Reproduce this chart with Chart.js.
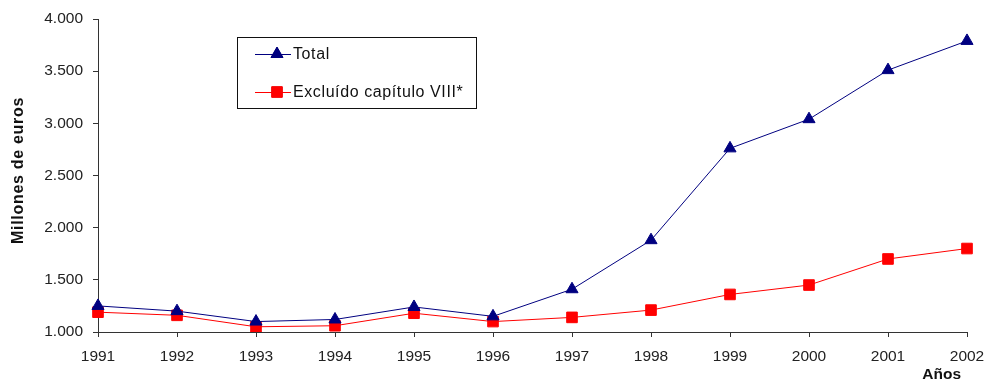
<!DOCTYPE html>
<html>
<head>
<meta charset="utf-8">
<script src="https://cdn.jsdelivr.net/npm/chart.js@4/dist/chart.umd.min.js"></script>
<style>
  html, body { margin: 0; padding: 0; background: #fff; }
  #wrap { width: 986px; height: 382px; }
</style>
</head>
<body>
<div id="wrap"><canvas id="c" width="986" height="382"></canvas></div>
<script>
// Years on the horizontal axis
const years = ['1991','1992','1993','1994','1995','1996','1997','1998','1999','2000','2001','2002'];
// Millions of euros
const totalValues    = [1250, 1200, 1100, 1120, 1240, 1150, 1410, 1880, 2760, 3040, 3510, 3790];
const excludedValues = [1190, 1160, 1050, 1060, 1180, 1100, 1140, 1210, 1360, 1450, 1700, 1800];
const seriesNames = ['Total', 'Excluído capítulo VIII*'];
const yTicks = [1000, 1500, 2000, 2500, 3000, 3500, 4000];
const yTitle = 'Millones de euros';
const xTitle = 'Años';

const FONT = '"Liberation Sans", Arial, sans-serif';

function fmt(v) {
  return String(v).replace(/\B(?=(\d{3})+(?!\d))/g, '.');
}

// Boxed legend inside the plot area, plus the two axis titles
const decorations = {
  id: 'decorations',
  afterDraw(chart) {
    const ctx = chart.ctx;
    const x0 = 237, y0 = 37, w = 239, h = 71;
    ctx.save();
    ctx.strokeStyle = '#111';
    ctx.lineWidth = 1;
    ctx.strokeRect(x0 + 0.5, y0 + 0.5, w, h);
    const rows = [54, 92];
    chart.data.datasets.forEach((ds, i) => {
      const y = rows[i];
      ctx.strokeStyle = ds.borderColor;
      ctx.lineWidth = 1;
      ctx.beginPath();
      ctx.moveTo(255, y + 0.5);
      ctx.lineTo(291, y + 0.5);
      ctx.stroke();
      Chart.helpers.drawPoint(ctx, {
        pointStyle: ds.pointStyle,
        radius: ds.pointRadius,
        borderWidth: 1
      }, 277, y);
      ctx.fillStyle = ds.pointBackgroundColor;
      ctx.fill();
      ctx.fillStyle = '#111';
      ctx.font = '16px ' + FONT;
      ctx.letterSpacing = '0.6px';
      ctx.textBaseline = 'middle';
      ctx.textAlign = 'left';
      ctx.fillText(ds.label, 293, y + 1);
    });

    // vertical axis title
    const area = chart.chartArea;
    ctx.save();
    ctx.translate(18.5, (area.top + area.bottom) / 2 - 5);
    ctx.rotate(-Math.PI / 2);
    ctx.font = 'bold 16px ' + FONT;
    ctx.letterSpacing = '0.7px';
    ctx.fillStyle = '#111';
    ctx.textAlign = 'center';
    ctx.textBaseline = 'middle';
    ctx.fillText(yTitle, 0, 0);
    ctx.restore();

    // horizontal axis title
    ctx.font = 'bold 15.5px ' + FONT;
    ctx.letterSpacing = '0px';
    ctx.fillStyle = '#111';
    ctx.textAlign = 'right';
    ctx.textBaseline = 'middle';
    ctx.fillText(xTitle, 961, 375);
    ctx.restore();
  }
};

new Chart(document.getElementById('c'), {
  type: 'line',
  data: {
    labels: years,
    datasets: [
      {
        label: seriesNames[0],
        data: totalValues,
        borderColor: '#000080',
        backgroundColor: '#000080',
        pointBackgroundColor: '#000080',
        pointBorderColor: '#000080',
        borderWidth: 1,
        pointStyle: 'triangle',
        pointRadius: 7,
        tension: 0
      },
      {
        label: seriesNames[1],
        data: excludedValues,
        borderColor: '#ff0000',
        backgroundColor: '#ff0000',
        pointBackgroundColor: '#ff0000',
        pointBorderColor: '#ff0000',
        borderWidth: 1,
        pointStyle: 'rect',
        pointRadius: 7.5,
        tension: 0
      }
    ]
  },
  options: {
    responsive: false,
    animation: false,
    layout: { padding: { left: 0, right: 19, top: 19, bottom: 0 } },
    plugins: {
      legend: { display: false },
      tooltip: { enabled: false }
    },
    scales: {
      x: {
        offset: false,
        grid: { display: true, drawOnChartArea: false, drawTicks: true, tickLength: 5, color: '#333' },
        border: { color: '#333', width: 1 },
        ticks: { color: '#222', font: { family: FONT, size: 15.5 }, padding: 10, maxRotation: 0, autoSkip: false },
        afterFit(s) { s.height = 50; s.paddingLeft = 0; s.paddingRight = 0; }
      },
      y: {
        min: 1000, max: 4000,
        afterBuildTicks(s) { s.ticks = yTicks.map(v => ({ value: v })); },
        grid: { display: true, drawOnChartArea: false, drawTicks: true, tickLength: 5, color: '#333' },
        border: { color: '#333', width: 1 },
        ticks: { color: '#222', font: { family: FONT, size: 15.5 }, padding: 10, callback: v => fmt(v) },
        afterFit(s) { s.width = 98; s.paddingTop = 0; s.paddingBottom = 0; }
      }
    }
  },
  plugins: [decorations]
});
</script>
</body>
</html>
